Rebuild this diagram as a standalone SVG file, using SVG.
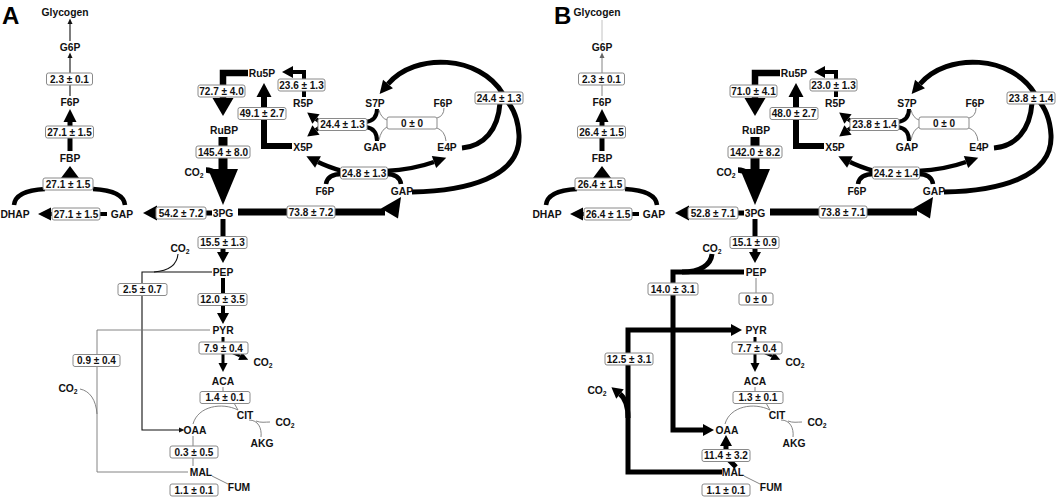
<svg xmlns="http://www.w3.org/2000/svg" width="1059" height="499" viewBox="0 0 1059 499">
<defs>
<style>
.n{font-family:"Liberation Sans",Arial,sans-serif;font-weight:bold;font-size:10.3px;text-anchor:middle;fill:#111}
.v{font-family:"Liberation Sans",Arial,sans-serif;font-weight:bold;font-size:10px;text-anchor:middle;fill:#111}
.s{font-size:6.8px}
.pl{font-family:"Liberation Sans",Arial,sans-serif;font-weight:bold;font-size:24px;fill:#000}
.bx{fill:#fff;stroke:#8a8a8a;stroke-width:1}
.k{fill:none;stroke:#000;stroke-linejoin:miter}
.t{fill:none;stroke:#111;stroke-width:1.1}
.g{fill:none;stroke:#777;stroke-width:0.9}
.lg{fill:none;stroke:#bbb;stroke-width:0.9}
</style>
<marker id="ms" markerUnits="userSpaceOnUse" orient="auto" overflow="visible" refX="0" refY="0" markerWidth="6" markerHeight="6"><path d="M0,-2.5 L5.5,0 L0,2.5 z" fill="#111"/></marker>
<marker id="msg" markerUnits="userSpaceOnUse" orient="auto" overflow="visible" refX="0" refY="0" markerWidth="6" markerHeight="6"><path d="M0,-2.5 L5.5,0 L0,2.5 z" fill="#666"/></marker>
<marker id="m8" markerUnits="userSpaceOnUse" orient="auto" overflow="visible" refX="0" refY="0" markerWidth="9" markerHeight="9"><path d="M0,-4.5 L9,0 L0,4.5 z" fill="#000"/></marker>
<marker id="m12" markerUnits="userSpaceOnUse" orient="auto" overflow="visible" refX="0" refY="0" markerWidth="12" markerHeight="12"><path d="M0,-6 L11,0 L0,6 z" fill="#000"/></marker>
<marker id="m13" markerUnits="userSpaceOnUse" orient="auto" overflow="visible" refX="0" refY="0" markerWidth="13" markerHeight="13"><path d="M0,-6.5 L13,0 L0,6.5 z" fill="#000"/></marker>
<marker id="m15" markerUnits="userSpaceOnUse" orient="auto" overflow="visible" refX="0" refY="0" markerWidth="15" markerHeight="15"><path d="M0,-7.5 L14,0 L0,7.5 z" fill="#000"/></marker>
<marker id="m18" markerUnits="userSpaceOnUse" orient="auto" overflow="visible" refX="0" refY="0" markerWidth="18" markerHeight="21"><path d="M0,-10.5 L18,0 L0,10.5 z" fill="#000"/></marker>
<marker id="mbig" markerUnits="userSpaceOnUse" orient="auto" overflow="visible" refX="0" refY="0" markerWidth="36" markerHeight="30"><path d="M0,-15 L36,0 L0,15 z" fill="#000"/></marker>
</defs>
<rect width="1059" height="499" fill="#fff"/>

<text class="pl" x="2" y="24">A</text>
<text class="pl" x="554" y="24">B</text>

<!-- ================= PANEL A ================= -->
<g id="panelA">
<g id="A-connectors">
<path class="t" d="M70 41 V24" marker-end="url(#ms)"/>
<path class="t" d="M70 96 V58" marker-end="url(#ms)"/>
<path class="k" stroke-width="5" d="M70 151 V122" marker-end="url(#m13)"/>
<path class="k" stroke-width="4.5" d="M14 205 C15 195 26 190 45 189"/>
<path class="k" stroke-width="4.5" d="M125 205 C124 195 112 190 93 189"/>
<polygon points="61,178 79,178 70,166" fill="#000"/>
<path class="k" stroke-width="4" d="M107 214 H51" marker-end="url(#m13)"/>
<path class="k" stroke-width="5" d="M212 213 H157" marker-end="url(#m15)"/>
<path class="k" stroke-width="7" d="M238 212 H385"/>
<polygon points="381,208.5 401,197 398,218.5" fill="#000"/>
<path class="k" stroke-width="6.5" d="M248 73 H223 V98" marker-end="url(#m18)"/>
<path class="k" stroke-width="9" d="M223 137 V169" marker-end="url(#mbig)"/>
<path class="k" stroke-width="5.5" d="M206 170 C213 170 218 174 221 183"/>
<path class="k" stroke-width="6" d="M292 146 H264 V97" marker-end="url(#m15)"/>
<path class="k" stroke-width="4" d="M304 97 V72 H293" marker-end="url(#m12)"/>
<path class="k" stroke-width="4" d="M377 109 C377 117 373 121 366 122"/>
<path class="k" stroke-width="4" d="M377 141 C377 132 373 128 366 127"/>
<path class="k" stroke-width="4" d="M320 122 L316 119" marker-end="url(#m12)"/>
<path class="k" stroke-width="4" d="M320 127 L316 130" marker-end="url(#m12)"/>
<path class="g" d="M379 110 Q381 118 387 120"/>
<path class="g" d="M379 140 Q381 130 387 127"/>
<path class="g" d="M444 108 Q444 116 437 118"/>
<path class="g" d="M446 141 Q445 131 437 128"/>
<path class="k" stroke-width="4.5" d="M326 184 C327 177 333 174 342 174"/>
<path class="k" stroke-width="4.5" d="M401 184 C400 177 394 174 386 174"/>
<path class="k" stroke-width="4.5" d="M342 171 C332 168 324 165 318 162" marker-end="url(#m13)"/>
<path class="k" stroke-width="4.5" d="M386 171 C404 170 420 167 434 162" marker-end="url(#m13)"/>
<path class="k" stroke-width="5" d="M462 148 C484 146 498 130 500 103"/>
<path class="k" stroke-width="5" d="M412 192 C465 191 521 178 519 135 C518 118 512 106 505 99"/>
<path class="k" stroke-width="5" d="M503 94 C480 55 415 52 388 84" marker-end="url(#m13)"/>
<path class="k" stroke-width="5" d="M223 219 V252" marker-end="url(#m12)"/>
<path class="k" stroke-width="4" d="M223 278 V313" marker-end="url(#m12)"/>
<path class="k" stroke-width="3" d="M223 337 V363" marker-end="url(#m8)"/>
<path class="k" stroke-width="3" d="M231 352 L240 356" marker-end="url(#m8)"/>
<path class="t" d="M212 272 H142 V430 H179" marker-end="url(#ms)"/>
<path class="t" d="M178 254 C177 265 168 271 154 272"/>
<path class="g" d="M210 330 H97 V472 H188"/>
<path class="g" d="M80 389 C90 391 96 400 97 414"/>
<path class="g" d="M223 387 V392"/>
<path class="g" d="M234 403 L238 410"/>
<path class="g" d="M238 410 C222 402 198 406 193 424"/>
<path class="g" d="M193 436 V466"/>
<path class="g" d="M212 476 L228 484"/>
<path class="g" d="M249 420 C258 420 262 428 261 437"/>
<path class="g" d="M256 421 C261 423 265 422 270 422"/>
</g>
<g id="A-labels">
<g><rect class="bx" x="46.5" y="73" width="46" height="12" rx="2"/><text class="v" x="69.5" y="82.5">2.3 ± 0.1</text></g>
<g><rect class="bx" x="45.5" y="126" width="48" height="12" rx="2"/><text class="v" x="69.5" y="135.5">27.1 ± 1.5</text></g>
<g><rect class="bx" x="43" y="178" width="50" height="12" rx="2"/><text class="v" x="68" y="187.5">27.1 ± 1.5</text></g>
<g><rect class="bx" x="52" y="208" width="48" height="12" rx="2"/><text class="v" x="76" y="217.5">27.1 ± 1.5</text></g>
<g><rect class="bx" x="156" y="207" width="50" height="12" rx="2"/><text class="v" x="181" y="216.5">54.2 ± 7.2</text></g>
<g><rect class="bx" x="287" y="206" width="48" height="12" rx="2"/><text class="v" x="311" y="215.5">73.8 ± 7.2</text></g>
<g><rect class="bx" x="198" y="85" width="47" height="12" rx="2"/><text class="v" x="221.5" y="94.5">72.7 ± 4.0</text></g>
<g><rect class="bx" x="196" y="146" width="54" height="12" rx="2"/><text class="v" x="223" y="155.5">145.4 ± 8.0</text></g>
<g><rect class="bx" x="238" y="107.5" width="48" height="12" rx="2"/><text class="v" x="262" y="117">49.1 ± 2.7</text></g>
<g><rect class="bx" x="278" y="79" width="47" height="12" rx="2"/><text class="v" x="301.5" y="88.5">23.6 ± 1.3</text></g>
<g><rect class="bx" x="318" y="118.5" width="49" height="12" rx="2"/><text class="v" x="342.5" y="128">24.4 ± 1.3</text></g>
<g><rect class="bx" x="387" y="117" width="50" height="12" rx="2"/><text class="v" x="412" y="126.5">0 ± 0</text></g>
<g><rect class="bx" x="475" y="92" width="48" height="12" rx="2"/><text class="v" x="499" y="101.5">24.4 ± 1.3</text></g>
<g><rect class="bx" x="340.5" y="167" width="47" height="12" rx="2"/><text class="v" x="364" y="176.5">24.8 ± 1.3</text></g>
<g><rect class="bx" x="198" y="236.5" width="49" height="12" rx="2"/><text class="v" x="222.5" y="246">15.5 ± 1.3</text></g>
<g><rect class="bx" x="118" y="283.5" width="49" height="12" rx="2"/><text class="v" x="142.5" y="293">2.5 ± 0.7</text></g>
<g><rect class="bx" x="198" y="293.5" width="49" height="12" rx="2"/><text class="v" x="222.5" y="303">12.0 ± 3.5</text></g>
<g><rect class="bx" x="73" y="354.5" width="47" height="12" rx="2"/><text class="v" x="96.5" y="364">0.9 ± 0.4</text></g>
<g><rect class="bx" x="199" y="342" width="49" height="12" rx="2"/><text class="v" x="223.5" y="351.5">7.9 ± 0.4</text></g>
<g><rect class="bx" x="200" y="391.5" width="50" height="12" rx="2"/><text class="v" x="225" y="401">1.4 ± 0.1</text></g>
<g><rect class="bx" x="170" y="446" width="48" height="12" rx="2"/><text class="v" x="194" y="455.5">0.3 ± 0.5</text></g>
<g><rect class="bx" x="170" y="484" width="48" height="12" rx="2"/><text class="v" x="194" y="493.5">1.1 ± 0.1</text></g>
</g>
<g id="A-Glycogen"><text class="n" x="65" y="15.6">Glycogen</text></g>
<g id="A-G6P"><text class="n" x="70" y="50.6">G6P</text></g>
<g id="A-F6P"><text class="n" x="70" y="105.6">F6P</text></g>
<g id="A-FBP"><text class="n" x="70" y="161.6">FBP</text></g>
<g id="A-DHAP"><text class="n" x="15" y="217.6">DHAP</text></g>
<g id="A-GAP1"><text class="n" x="122" y="217.6">GAP</text></g>
<g id="A-3PG"><text class="n" x="223" y="216.6">3PG</text></g>
<g id="A-RuBP"><text class="n" x="224" y="133.6">RuBP</text></g>
<g id="A-Ru5P"><text class="n" x="262" y="76.6">Ru5P</text></g>
<g id="A-R5P"><text class="n" x="303" y="106.6">R5P</text></g>
<g id="A-S7P"><text class="n" x="375" y="106.6">S7P</text></g>
<g id="A-F6P2"><text class="n" x="443" y="106.6">F6P</text></g>
<g id="A-X5P"><text class="n" x="303" y="150.6">X5P</text></g>
<g id="A-GAP2"><text class="n" x="375" y="150.6">GAP</text></g>
<g id="A-E4P"><text class="n" x="447" y="150.6">E4P</text></g>
<g id="A-F6P3"><text class="n" x="325" y="194.6">F6P</text></g>
<g id="A-GAP3"><text class="n" x="402" y="194.6">GAP</text></g>
<g id="A-CO2a"><text class="n" x="194" y="175.6">CO<tspan class="s" dy="2">2</tspan></text></g>
<g id="A-PEP"><text class="n" x="223" y="275.6">PEP</text></g>
<g id="A-CO2b"><text class="n" x="180" y="251.6">CO<tspan class="s" dy="2">2</tspan></text></g>
<g id="A-PYR"><text class="n" x="223" y="333.6">PYR</text></g>
<g id="A-CO2c"><text class="n" x="263" y="365.6">CO<tspan class="s" dy="2">2</tspan></text></g>
<g id="A-ACA"><text class="n" x="223" y="384.6">ACA</text></g>
<g id="A-CIT"><text class="n" x="245" y="418.6">CIT</text></g>
<g id="A-CO2d"><text class="n" x="285" y="425.6">CO<tspan class="s" dy="2">2</tspan></text></g>
<g id="A-AKG"><text class="n" x="262" y="446.6">AKG</text></g>
<g id="A-OAA"><text class="n" x="195" y="433.6">OAA</text></g>
<g id="A-MAL"><text class="n" x="201" y="475.6">MAL</text></g>
<g id="A-FUM"><text class="n" x="239" y="490.6">FUM</text></g>
<g id="A-CO2e"><text class="n" x="68" y="391.6">CO<tspan class="s" dy="2">2</tspan></text></g>
</g>

<!-- ================= PANEL B ================= -->
<g id="panelB" transform="translate(532,0)">
<g id="B-connectors">
<path class="lg" d="M70 41 V20"/>
<path class="g" d="M70 96 V58" stroke="#666" marker-end="url(#msg)"/>
<path class="k" stroke-width="5" d="M70 151 V122" marker-end="url(#m13)"/>
<path class="k" stroke-width="4.5" d="M14 205 C15 195 26 190 45 189"/>
<path class="k" stroke-width="4.5" d="M125 205 C124 195 112 190 93 189"/>
<polygon points="61,178 79,178 70,166" fill="#000"/>
<path class="k" stroke-width="4" d="M107 214 H51" marker-end="url(#m13)"/>
<path class="k" stroke-width="5" d="M212 213 H157" marker-end="url(#m15)"/>
<path class="k" stroke-width="7" d="M238 212 H385"/>
<polygon points="381,208.5 401,197 398,218.5" fill="#000"/>
<path class="k" stroke-width="6.5" d="M248 73 H223 V98" marker-end="url(#m18)"/>
<path class="k" stroke-width="9" d="M223 137 V169" marker-end="url(#mbig)"/>
<path class="k" stroke-width="5.5" d="M206 170 C213 170 218 174 221 183"/>
<path class="k" stroke-width="6" d="M292 146 H264 V97" marker-end="url(#m15)"/>
<path class="k" stroke-width="4" d="M304 97 V72 H293" marker-end="url(#m12)"/>
<path class="k" stroke-width="4" d="M377 109 C377 117 373 121 366 122"/>
<path class="k" stroke-width="4" d="M377 141 C377 132 373 128 366 127"/>
<path class="k" stroke-width="4" d="M320 122 L316 119" marker-end="url(#m12)"/>
<path class="k" stroke-width="4" d="M320 127 L316 130" marker-end="url(#m12)"/>
<path class="g" d="M379 110 Q381 118 387 120"/>
<path class="g" d="M379 140 Q381 130 387 127"/>
<path class="g" d="M444 108 Q444 116 437 118"/>
<path class="g" d="M446 141 Q445 131 437 128"/>
<path class="k" stroke-width="4.5" d="M326 184 C327 177 333 174 342 174"/>
<path class="k" stroke-width="4.5" d="M401 184 C400 177 394 174 386 174"/>
<path class="k" stroke-width="4.5" d="M342 171 C332 168 324 165 318 162" marker-end="url(#m13)"/>
<path class="k" stroke-width="4.5" d="M386 171 C404 170 420 167 434 162" marker-end="url(#m13)"/>
<path class="k" stroke-width="5" d="M462 148 C484 146 498 130 500 103"/>
<path class="k" stroke-width="5" d="M412 192 C465 191 521 178 519 135 C518 118 512 106 505 99"/>
<path class="k" stroke-width="5" d="M503 94 C480 55 415 52 388 84" marker-end="url(#m13)"/>
<path class="k" stroke-width="5" d="M223 219 V252" marker-end="url(#m12)"/>
<path class="g" d="M224 278 V293"/>
<path class="k" stroke-width="3" d="M223 337 V363" marker-end="url(#m8)"/>
<path class="k" stroke-width="3" d="M231 352 L240 356" marker-end="url(#m8)"/>
<path class="k" stroke-width="5" d="M212 272 H141 V430 H171" marker-end="url(#m12)"/>
<path class="k" stroke-width="5" d="M180 254 C179 265 168 272 150 272"/>
<path class="k" stroke-width="5" d="M190 472 H96 V330 H199" marker-end="url(#m12)"/>
<path class="k" stroke-width="5" d="M96 418 C96 405 93 398 88 394" marker-end="url(#m12)"/>
<path class="k" stroke-width="5" d="M204 467 L194 457 V446" marker-end="url(#m12)"/>
<path class="g" d="M223 387 V392"/>
<path class="g" d="M234 403 L238 410"/>
<path class="g" d="M238 410 C222 402 198 406 193 424"/>
<path class="g" d="M212 476 L228 484"/>
<path class="g" d="M249 420 C258 420 262 428 261 437"/>
<path class="g" d="M256 421 C261 423 265 422 270 422"/>
</g>
<g id="B-labels">
<g><rect class="bx" x="46.5" y="73" width="46" height="12" rx="2"/><text class="v" x="69.5" y="82.5">2.3 ± 0.1</text></g>
<g><rect class="bx" x="45.5" y="126" width="48" height="12" rx="2"/><text class="v" x="69.5" y="135.5">26.4 ± 1.5</text></g>
<g><rect class="bx" x="43" y="178" width="50" height="12" rx="2"/><text class="v" x="68" y="187.5">26.4 ± 1.5</text></g>
<g><rect class="bx" x="52" y="208" width="48" height="12" rx="2"/><text class="v" x="76" y="217.5">26.4 ± 1.5</text></g>
<g><rect class="bx" x="156" y="207" width="50" height="12" rx="2"/><text class="v" x="181" y="216.5">52.8 ± 7.1</text></g>
<g><rect class="bx" x="287" y="206" width="48" height="12" rx="2"/><text class="v" x="311" y="215.5">73.8 ± 7.1</text></g>
<g><rect class="bx" x="198" y="85" width="47" height="12" rx="2"/><text class="v" x="221.5" y="94.5">71.0 ± 4.1</text></g>
<g><rect class="bx" x="196" y="146" width="54" height="12" rx="2"/><text class="v" x="223" y="155.5">142.0 ± 8.2</text></g>
<g><rect class="bx" x="238" y="107.5" width="48" height="12" rx="2"/><text class="v" x="262" y="117">48.0 ± 2.7</text></g>
<g><rect class="bx" x="278" y="79" width="47" height="12" rx="2"/><text class="v" x="301.5" y="88.5">23.0 ± 1.3</text></g>
<g><rect class="bx" x="318" y="118.5" width="49" height="12" rx="2"/><text class="v" x="342.5" y="128">23.8 ± 1.4</text></g>
<g><rect class="bx" x="387" y="117" width="50" height="12" rx="2"/><text class="v" x="412" y="126.5">0 ± 0</text></g>
<g><rect class="bx" x="475" y="92" width="48" height="12" rx="2"/><text class="v" x="499" y="101.5">23.8 ± 1.4</text></g>
<g><rect class="bx" x="340.5" y="167" width="47" height="12" rx="2"/><text class="v" x="364" y="176.5">24.2 ± 1.4</text></g>
<g><rect class="bx" x="198" y="236.5" width="49" height="12" rx="2"/><text class="v" x="222.5" y="246">15.1 ± 0.9</text></g>
<g><rect class="bx" x="116" y="283" width="50" height="12" rx="2"/><text class="v" x="141" y="292.5">14.0 ± 3.1</text></g>
<g><rect class="bx" x="207" y="293" width="34" height="12" rx="2"/><text class="v" x="224" y="302.5">0 ± 0</text></g>
<g><rect class="bx" x="73" y="353" width="48" height="12" rx="2"/><text class="v" x="97" y="362.5">12.5 ± 3.1</text></g>
<g><rect class="bx" x="200" y="342" width="50" height="12" rx="2"/><text class="v" x="225" y="351.5">7.7 ± 0.4</text></g>
<g><rect class="bx" x="201" y="391.5" width="50" height="12" rx="2"/><text class="v" x="226" y="401">1.3 ± 0.1</text></g>
<g><rect class="bx" x="170" y="449.5" width="48" height="12" rx="2"/><text class="v" x="194" y="459">11.4 ± 3.2</text></g>
<g><rect class="bx" x="170" y="484" width="48" height="12" rx="2"/><text class="v" x="194" y="493.5">1.1 ± 0.1</text></g>
</g>
<g id="B-Glycogen"><text class="n" x="65" y="15.6">Glycogen</text></g>
<g id="B-G6P"><text class="n" x="70" y="50.6">G6P</text></g>
<g id="B-F6P"><text class="n" x="70" y="105.6">F6P</text></g>
<g id="B-FBP"><text class="n" x="70" y="161.6">FBP</text></g>
<g id="B-DHAP"><text class="n" x="15" y="217.6">DHAP</text></g>
<g id="B-GAP1"><text class="n" x="122" y="217.6">GAP</text></g>
<g id="B-3PG"><text class="n" x="223" y="216.6">3PG</text></g>
<g id="B-RuBP"><text class="n" x="224" y="133.6">RuBP</text></g>
<g id="B-Ru5P"><text class="n" x="262" y="76.6">Ru5P</text></g>
<g id="B-R5P"><text class="n" x="303" y="106.6">R5P</text></g>
<g id="B-S7P"><text class="n" x="375" y="106.6">S7P</text></g>
<g id="B-F6P2"><text class="n" x="443" y="106.6">F6P</text></g>
<g id="B-X5P"><text class="n" x="303" y="150.6">X5P</text></g>
<g id="B-GAP2"><text class="n" x="375" y="150.6">GAP</text></g>
<g id="B-E4P"><text class="n" x="447" y="150.6">E4P</text></g>
<g id="B-F6P3"><text class="n" x="325" y="194.6">F6P</text></g>
<g id="B-GAP3"><text class="n" x="402" y="194.6">GAP</text></g>
<g id="B-CO2a"><text class="n" x="194" y="175.6">CO<tspan class="s" dy="2">2</tspan></text></g>
<g id="B-PEP"><text class="n" x="224" y="275.6">PEP</text></g>
<g id="B-CO2b"><text class="n" x="180" y="251.6">CO<tspan class="s" dy="2">2</tspan></text></g>
<g id="B-PYR"><text class="n" x="224" y="333.6">PYR</text></g>
<g id="B-CO2c"><text class="n" x="263" y="365.6">CO<tspan class="s" dy="2">2</tspan></text></g>
<g id="B-ACA"><text class="n" x="223" y="384.6">ACA</text></g>
<g id="B-CIT"><text class="n" x="245" y="418.6">CIT</text></g>
<g id="B-CO2d"><text class="n" x="285" y="425.6">CO<tspan class="s" dy="2">2</tspan></text></g>
<g id="B-AKG"><text class="n" x="262" y="446.6">AKG</text></g>
<g id="B-OAA"><text class="n" x="195" y="433.6">OAA</text></g>
<g id="B-MAL"><text class="n" x="201" y="475.6">MAL</text></g>
<g id="B-FUM"><text class="n" x="239" y="490.6">FUM</text></g>
<g id="B-CO2e"><text class="n" x="65" y="393.6">CO<tspan class="s" dy="2">2</tspan></text></g>
</g>
</svg>
